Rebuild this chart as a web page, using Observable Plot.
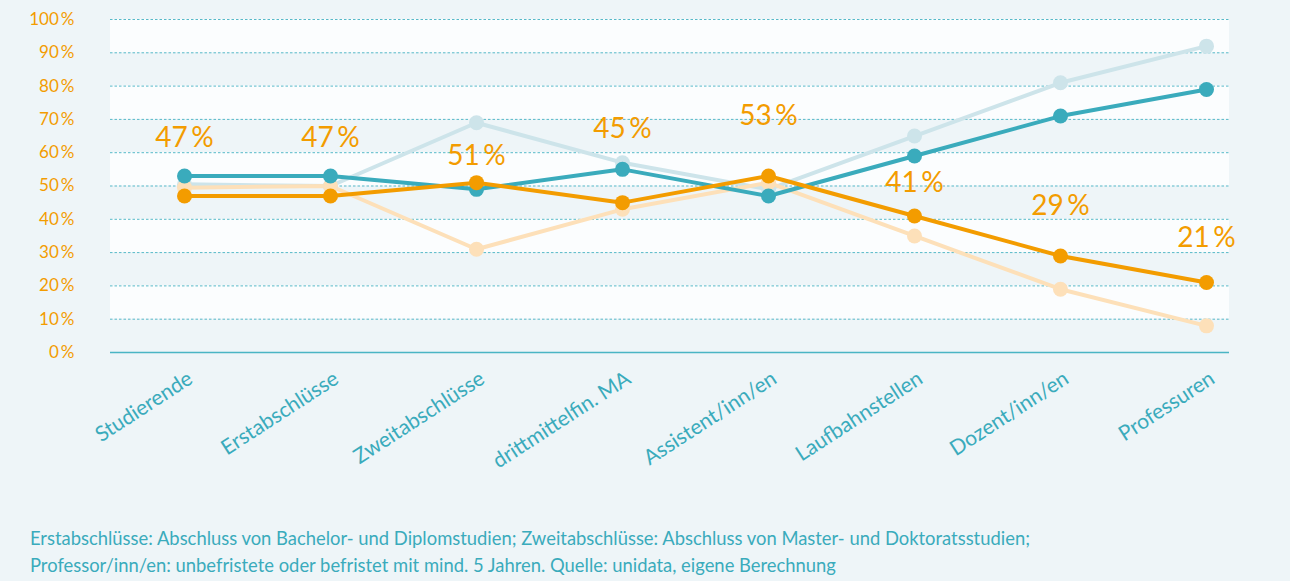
<!DOCTYPE html>
<html>
<head>
<meta charset="utf-8">
<script src="https://cdn.jsdelivr.net/npm/d3@7"></script>
<script src="https://cdn.jsdelivr.net/npm/@observablehq/plot@0.6"></script>
<style>
  html, body { margin: 0; padding: 0; background: #eef5f8; }
  body { width: 1290px; height: 581px; overflow: hidden; font-family: Lato, "Open Sans", sans-serif; }
  #chart svg { display: block; background: transparent; }
  #caption { color: #3aabbc; font-size: 18.4px; line-height: 27px; margin: 25px 0 0 30px; }
</style>
</head>
<body>
<div id="chart"></div>
<div id="caption">Erstabschlüsse: Abschluss von Bachelor- und Diplomstudien; Zweitabschlüsse: Abschluss von Master- und Doktoratsstudien;<br>Professor/inn/en: unbefristete oder befristet mit mind. 5 Jahren. Quelle: unidata, eigene Berechnung</div>
<script>
const categories = ["Studierende", "Erstabschlüsse", "Zweitabschlüsse", "drittmittelfin. MA", "Assistent/inn/en", "Laufbahnstellen", "Dozent/inn/en", "Professuren"];
const women = [47, 47, 51, 45, 53, 41, 29, 21];
const men = [53, 53, 49, 55, 47, 59, 71, 79];
const womenEarlier = [49.5, 50, 31, 43, 51, 35, 19, 8];
const menEarlier = [50.5, 50, 69, 57, 49, 65, 81, 92];
const labelLevel = [64.5, 64.5, 59, 67, 71, 51, 44, 34.5];
const yTicks = [0, 10, 20, 30, 40, 50, 60, 70, 80, 90, 100];

const series = [
  {key: "menEarlier", values: menEarlier, color: "#cde4ea"},
  {key: "womenEarlier", values: womenEarlier, color: "#fde0b9"},
  {key: "men", values: men, color: "#3aabbc"},
  {key: "women", values: women, color: "#f39c00"}
];
const rows = series.flatMap(s => s.values.map((v, i) => ({series: s.key, cat: categories[i], value: v, color: s.color})));
const bands = yTicks.slice(0, -1).filter(t => (t / 10) % 2 === 1).map(t => ({y1: t, y2: t + 10}));
const labels = categories.map((c, i) => ({cat: c, value: women[i], at: labelLevel[i]}));

const orange = "#f39c00", teal = "#3aabbc";
const chart = Plot.plot({
  width: 1290,
  height: 500,
  marginLeft: 110,
  marginRight: 61,
  marginTop: 19,
  marginBottom: 148,
  style: {fontFamily: "Lato, 'Open Sans', sans-serif", background: "transparent", overflow: "visible"},
  x: {type: "point", domain: categories, range: [184, 1206], padding: 0, label: null},
  y: {domain: [0, 100], label: null},
  marks: [
    Plot.rect(bands, {y1: "y1", y2: "y2", fill: "#fbfdfe"}),
    Plot.ruleY(yTicks.filter(t => t > 0), {stroke: "#57b9c8", strokeWidth: 1, strokeDasharray: "2.5,2"}),
    Plot.ruleY([0], {stroke: "#4ab5c4", strokeWidth: 1.3}),
    Plot.axisY(yTicks, {tickSize: 0, tickPadding: 36, fontSize: 17, fill: orange, label: null, tickFormat: d => d + "\u2009%"}),
    Plot.axisX({tickSize: 0, tickRotate: -33, tickPadding: 24, fontSize: 21, fill: teal, label: null, textAnchor: "end", dx: 6}),
    ...series.map(s => Plot.line(rows.filter(r => r.series === s.key), {x: "cat", y: "value", stroke: s.color, strokeWidth: 4})),
    ...series.map(s => Plot.dot(rows.filter(r => r.series === s.key), {x: "cat", y: "value", fill: s.color, r: 7.5})),
    Plot.text(labels, {x: "cat", y: "at", text: d => d.value + "\u2009%", fill: orange, fontSize: 28})
  ]
});
document.getElementById("chart").append(chart);
</script>
</body>
</html>
